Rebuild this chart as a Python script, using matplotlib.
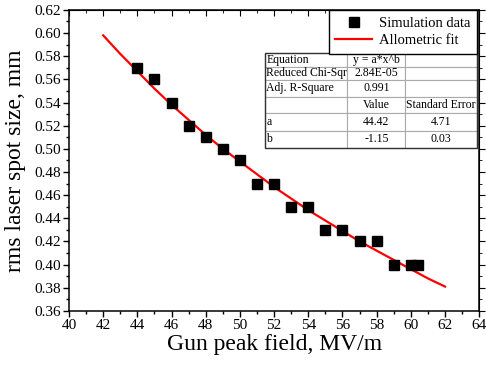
import matplotlib
matplotlib.use("Agg")
import matplotlib.pyplot as plt
from matplotlib.ticker import MultipleLocator

plt.rcParams['font.family'] = ['Liberation Serif', 'DejaVu Serif']

# simulation points
field = [44, 45, 46, 47, 48, 49, 50, 51, 52, 53, 54, 55, 56, 57, 58, 59, 60, 60.4]
spot = [0.57, 0.56, 0.54, 0.52, 0.51, 0.50, 0.49, 0.47, 0.47, 0.45, 0.45,
        0.43, 0.43, 0.42, 0.42, 0.40, 0.40, 0.40]

# allometric fit curve
fit_x = [42, 43, 44, 45, 46, 47, 48, 49, 50, 51, 52, 53, 54, 55, 56, 57, 58, 59, 60, 61, 62]
fit_y = [0.598, 0.582, 0.567, 0.552, 0.538, 0.525, 0.512, 0.500, 0.489, 0.478, 0.467,
         0.457, 0.447, 0.438, 0.429, 0.420, 0.412, 0.404, 0.396, 0.388, 0.381]

table_rows = [
    ["Equation", "y = a*x^b", ""],
    ["Reduced Chi-Sqr", "2.84E-05", ""],
    ["Adj. R-Square", "0.991", ""],
    ["", "Value", "Standard Error"],
    ["a", "44.42", "4.71"],
    ["b", "-1.15", "0.03"],
]
row_h = [14, 13, 17, 16, 18, 17]
col_w = [83, 58, 72]

fig = plt.figure(figsize=(4.86, 3.67), dpi=100)
ax = fig.add_axes([0.142, 0.153, 0.844, 0.820])

ax.plot(field, spot, 's', color='black', markersize=6.5, label='Simulation data', zorder=3)
ax.plot(fit_x, fit_y, '-', color='red', linewidth=1.6, label='Allometric fit', zorder=2)

ax.set_xlim(40, 64)
ax.set_ylim(0.36, 0.62)
ax.xaxis.set_major_locator(MultipleLocator(2))
ax.xaxis.set_minor_locator(MultipleLocator(1))
ax.yaxis.set_major_locator(MultipleLocator(0.02))
ax.yaxis.set_minor_locator(MultipleLocator(0.01))
ax.yaxis.set_major_formatter(matplotlib.ticker.FormatStrFormatter('%.2f'))
ax.tick_params(which='major', direction='out', length=4.5, width=1, labelsize=11, pad=1.5)
ax.tick_params(which='minor', direction='out', length=2.5, width=1)
for s in ax.spines.values():
    s.set_linewidth(1.1)

top = ax.secondary_xaxis('top')
top.xaxis.set_major_locator(MultipleLocator(2))
top.xaxis.set_minor_locator(MultipleLocator(1))
top.tick_params(which='both', direction='in', labeltop=False)
top.tick_params(which='major', length=4)
top.tick_params(which='minor', length=2)
right = ax.secondary_yaxis('right')
right.yaxis.set_major_locator(MultipleLocator(0.02))
right.yaxis.set_minor_locator(MultipleLocator(0.01))
right.tick_params(which='both', direction='out', labelright=False)
right.tick_params(which='major', length=4)
right.tick_params(which='minor', length=2)

ax.set_xlabel('Gun peak field, MV/m', fontsize=17, labelpad=1)
ax.set_ylabel('rms laser spot size, mm', fontsize=17, labelpad=6)

leg = ax.legend(loc='upper right', bbox_to_anchor=(0.995, 1.0), fontsize=10.5, frameon=True,
                fancybox=False, edgecolor='black', framealpha=1, borderpad=0.45,
                handlelength=2.5, handletextpad=0.5, labelspacing=0.3, borderaxespad=0)
leg.get_frame().set_linewidth(1.0)

tb = ax.table(cellText=table_rows, cellLoc='center',
              bbox=[0.477, 0.542, 0.518, 0.315], zorder=4)
tb.auto_set_font_size(False)
for (r, c), cell in tb.get_celld().items():
    cell.set_height(row_h[r])
    cell.set_width(col_w[c])
    cell.set_edgecolor('#aaaaaa')
    cell.set_linewidth(0.8)
    cell.get_text().set_fontsize(8.5)
    if c == 0:
        cell.get_text().set_ha('left')
        cell._loc = 'left'
        cell.PAD = 0.02
    else:
        cell.get_text().set_ha('center')
        cell._loc = 'center'
ax.add_patch(plt.Rectangle((0.477, 0.542), 0.518, 0.315, transform=ax.transAxes,
                           fill=False, edgecolor='#333333', linewidth=1.0, zorder=5))

fig.savefig('out.png', dpi=100)
